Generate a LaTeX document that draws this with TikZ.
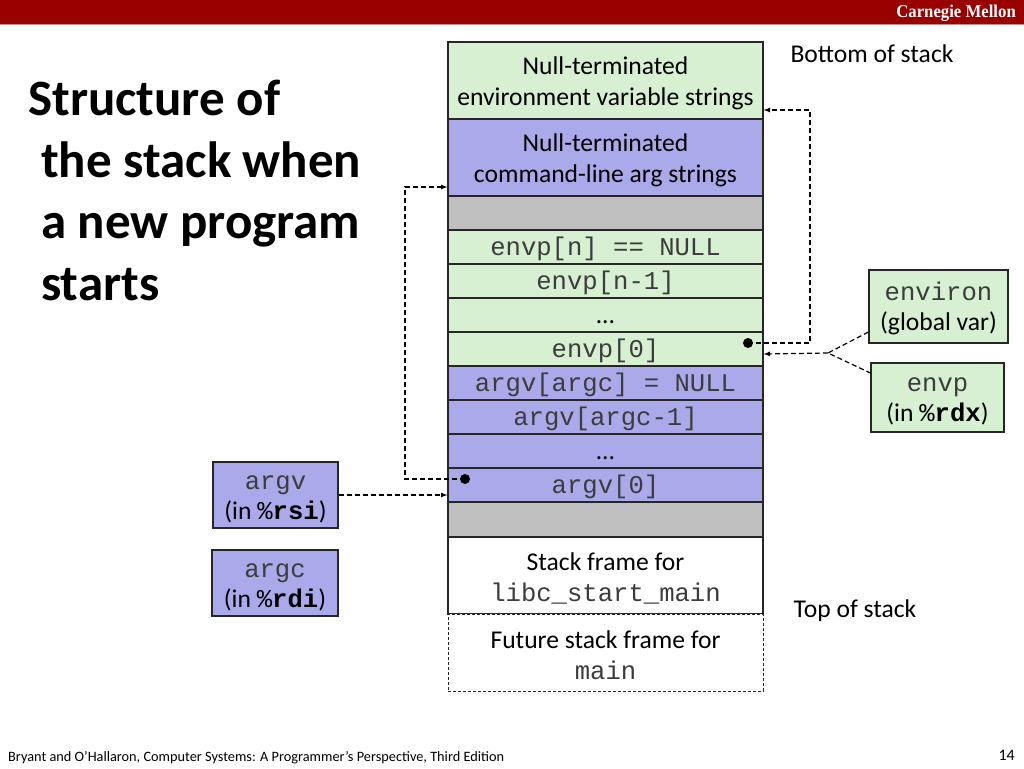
\documentclass[tikz,border=0pt]{standalone}
\usepackage{fontspec}
\setmainfont{Carlito}
\newfontfamily\codefont{Liberation Mono}
\newfontfamily\cmufont[FakeStretch=0.93]{Liberation Serif}
\definecolor{cmured}{RGB}{153,0,0}
\definecolor{envgreen}{RGB}{214,240,209}
\definecolor{argblue}{RGB}{170,170,234}
\definecolor{padgray}{RGB}{192,192,192}
\definecolor{codegray}{RGB}{60,60,60}
\newcommand{\code}[1]{{\codefont\color{codegray}#1}}
\newcommand{\reg}[1]{{\codefont\%\bfseries #1}}
\tikzset{
 cell/.style={draw=black!85,line width=1.2pt,minimum width=315pt,minimum height=34pt,inner sep=0pt,align=center,font=\fontsize{25.6}{31}\selectfont},
 tall/.style={minimum height=77pt,text height=55pt},
 mono/.style={font=\codefont\fontsize{25.6}{31}\selectfont,text=codegray,text height=21pt,text depth=5pt},
 envcell/.style={cell,fill=envgreen},
 argcell/.style={cell,fill=argblue},
 padcell/.style={cell,fill=padgray},
 regbox/.style={draw=black!85,line width=1.2pt,inner sep=0pt,align=center,text height=52pt,font=\fontsize{25.6}{30}\selectfont},
 ptr/.style={black,dash pattern=on 5pt off 3pt,line width=1.2pt}
}

\begin{document}
\begin{tikzpicture}[x=1pt,y=-1pt]
 \useasboundingbox (0,0) rectangle (1024,768);
 \fill[cmured] (0,0) rectangle (1024,24);
 \draw[cmured!45,line width=1pt] (0,24.5) -- (1024,24.5);
 \node[anchor=east,text=white,inner sep=0pt,font=\cmufont\bfseries\fontsize{18}{18}\selectfont] (brand) at (1016,13) {Carnegie Mellon};
 \node[anchor=base west,align=left,inner sep=0pt,font=\bfseries\fontsize{51}{61.5}\selectfont] (title) at (28,300) {Structure of\\\hspace*{13pt}the stack when\\\hspace*{13pt}a new program\\\hspace*{13pt}starts};
 \node[envcell,tall] (envstr) at (605.5,80.5) {Null-terminated\\environment variable strings};
 \node[argcell,tall] (argstr) at (605.5,157.5) {Null-terminated\\command-line arg strings};
 \node[padcell] (padtop) at (605.5,213) {};
 \node[envcell,mono] (envn) at (605.5,247) {envp[n] == NULL};
 \node[envcell,mono] (envnm) at (605.5,281) {envp[n-1]};
 \node[envcell,text height=21pt,text depth=5pt] (envdots) at (605.5,315) {…};
 \node[envcell,mono] (envzero) at (605.5,349) {envp[0]};
 \node[argcell,mono] (argn) at (605.5,383) {argv[argc] = NULL};
 \node[argcell,mono] (argnm) at (605.5,417) {argv[argc-1]};
 \node[argcell,text height=21pt,text depth=5pt] (argdots) at (605.5,451) {…};
 \node[argcell,mono] (argzero) at (605.5,485) {argv[0]};
 \node[padcell,minimum height=35pt] (padbot) at (605.5,519.5) {};
 \node[cell,tall,fill=white] (libc) at (605.5,575.5) {Stack frame for\\\code{libc\_start\_main}};
 \node[cell,tall,fill=white,line width=1pt,dash pattern=on 3pt off 2pt] (future) at (605.5,652.5) {Future stack frame for\\\code{main}};
 \node[font=\fontsize{25.6}{31}\selectfont] (bottom) at (872,54) {Bottom of stack};
 \node[font=\fontsize{25.6}{31}\selectfont] (top) at (855,611) {Top of stack};
 \node[regbox,fill=envgreen,minimum width=139pt,minimum height=73pt] (environ) at (938.5,306.5) {\code{environ}\\(global var)};
 \node[regbox,fill=envgreen,minimum width=133pt,minimum height=69pt] (envp) at (937.5,397.5) {\code{envp}\\(in \reg{rdx})};
 \node[regbox,fill=argblue,minimum width=125pt,minimum height=66pt] (argv) at (275.5,495) {\code{argv}\\(in \reg{rsi})};
 \node[regbox,fill=argblue,minimum width=126pt,minimum height=66pt] (argc) at (275,583) {\code{argc}\\(in \reg{rdi})};
 \coordinate (envdot) at (748,343);
 \coordinate (argdot) at (465,479);
 \coordinate (fork) at (828,353);
 \fill (envdot) circle (5pt);
 \fill (argdot) circle (5pt);
 \draw[ptr,-latex] (envdot) -- ++(62,0) |- ([yshift=-29.5pt]envstr.east);
 \draw[ptr,-latex] (argdot) -- ++(-60,0) |- ([yshift=-29.5pt]argstr.west);
 \draw[ptr] ([yshift=-25.5pt]environ.west) -- (fork) -- ([yshift=24.5pt]envp.west);
 \draw[ptr,-latex] (fork) -- ([yshift=-5pt]envzero.east);
 \draw[ptr,-latex] (argv.east) -- (argv.east -| argzero.west);
 \node[anchor=base west,inner sep=0pt,font=\fontsize{14.3}{16}\selectfont] (credit) at (8,761) {Bryant and O’Hallaron, Computer Systems: A Programmer’s Perspective, Third Edition};
 \node[anchor=base east,inner sep=0pt,font=\fontsize{16}{16}\selectfont] (page) at (1015,760) {14};
\end{tikzpicture}
\end{document}
